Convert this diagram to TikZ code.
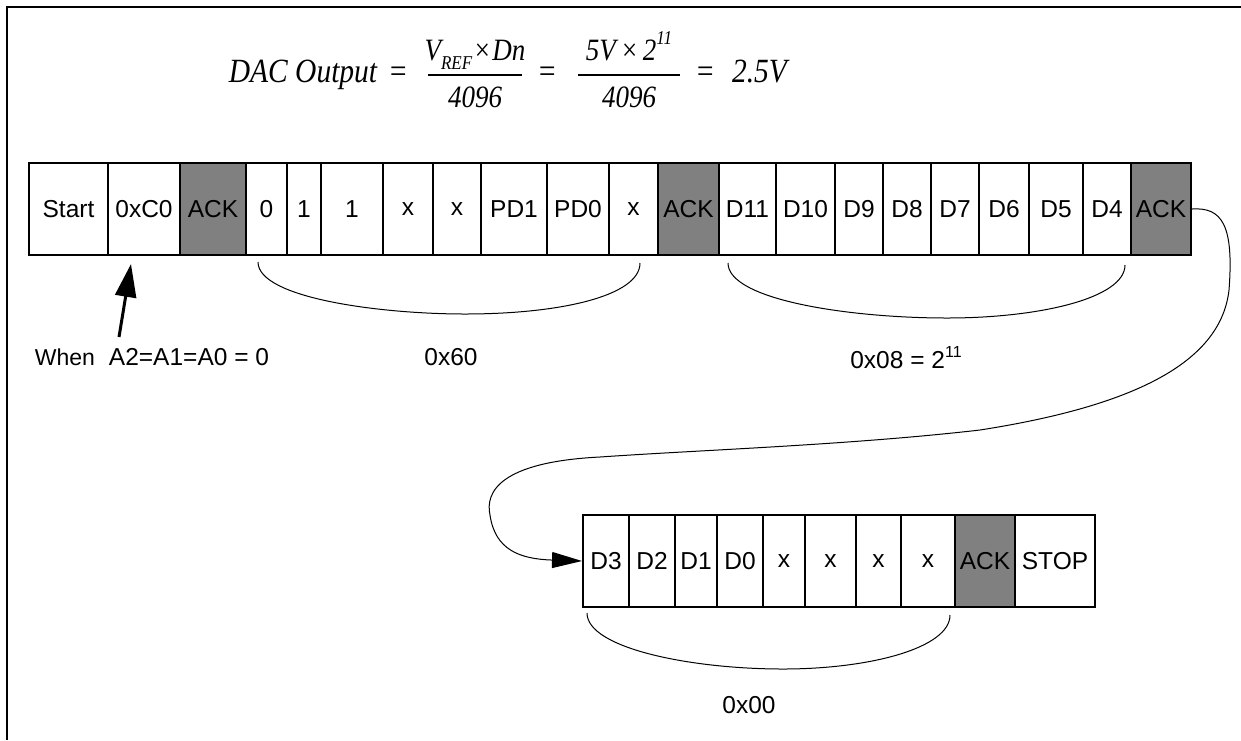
\documentclass[tikz,border=0pt]{standalone}
\usepackage{fontspec}
\usepackage{graphicx}
\setmainfont{Liberation Sans}
\newfontfamily\tnrfont{Liberation Serif}
\usetikzlibrary{arrows.meta,calc}
\definecolor{ackgrey}{HTML}{808080}
\newcommand{\cellfont}{\fontsize{24.5}{28}\selectfont}
\newcommand{\fmlfont}{\tnrfont\itshape\fontsize{29.5}{34}\selectfont}
\newcommand{\fracfont}{\tnrfont\itshape\fontsize{27}{32}\selectfont}
\newcommand{\smallfml}[1]{{\fontsize{17}{20}\selectfont #1}}
\newcommand{\tall}[1]{\scalebox{1}[1.15]{#1}}
\begin{document}
\begin{tikzpicture}[x=1pt,y=-1pt,
  cellbox/.style={draw, line width=2pt, minimum height=92pt, inner sep=0pt, font=\cellfont},
  ackbox/.style={cellbox, fill=ackgrey},
  lbl/.style={font=\cellfont, inner sep=0pt},
  fmla/.style={font=\fmlfont, inner sep=0pt, anchor=base},
  fracpart/.style={font=\fracfont, inner sep=0pt, anchor=base},
  fbar/.style={line width=1.5pt},
  brace/.style={line width=1pt},
  loopline/.style={line width=1pt, -{Triangle[length=30pt,width=16pt]}},
  pointer/.style={line width=3pt, -{Triangle[length=33pt,width=21pt]}},
  frame/.style={line width=2pt}
]
\useasboundingbox (0,0) rectangle (1241,740);
% frame
\draw[frame] (7,740) -- (7,7) -- (1241,7);

% formula
\node[fmla] (dac) at (303,82) {\tall{DAC Output}};
\node[fmla] (eq1) at (398,82) {\tall{=}};
\node[fracpart] (num1) at (475,60) {\tall{V\raisebox{-0.3em}{\smallfml{REF}}\kern1pt×\kern1pt Dn}};
\node[fracpart] (den1) at (475,107) {\tall{4096}};
\draw[fbar] (428,75) -- (522,75);
\node[fmla] (eq2) at (547,82) {\tall{=}};
\node[fracpart] (num2) at (629,60) {\tall{5V\,×\,2\raisebox{0.5em}{\smallfml{11}}}};
\node[fracpart] (den2) at (629,107) {\tall{4096}};
\draw[fbar] (578,75) -- (680,75);
\node[fmla] (eq3) at (705,82) {\tall{=}};
\node[fmla] (res) at (759.5,82) {\tall{2.5V}};

% top row
\node[cellbox, minimum width=79pt] (start) at (68.5,209) {Start};
\node[cellbox, minimum width=72pt] (addr) at (144,209) {0xC0};
\node[ackbox, minimum width=66pt] (ackA) at (213,209) {ACK};
\node[cellbox, minimum width=41pt] (cb0) at (266.5,209) {0};
\node[cellbox, minimum width=34pt] (cb1) at (304,209) {1};
\node[cellbox, minimum width=62pt] (cb2) at (352,209) {1};
\node[cellbox, minimum width=50pt] (cb3) at (408,209) {x};
\node[cellbox, minimum width=48pt] (cb4) at (457,209) {x};
\node[cellbox, minimum width=66pt] (pdone) at (514,209) {PD1};
\node[cellbox, minimum width=62pt] (pdzero) at (578,209) {PD0};
\node[cellbox, minimum width=49pt] (cb7) at (633.5,209) {x};
\node[ackbox, minimum width=61pt] (ackB) at (688.5,209) {ACK};
\node[cellbox, minimum width=57pt] (dB11) at (747.5,209) {D11};
\node[cellbox, minimum width=59pt] (dB10) at (805.5,209) {D10};
\node[cellbox, minimum width=48pt] (dB9) at (859,209) {D9};
\node[cellbox, minimum width=48pt] (dB8) at (907,209) {D8};
\node[cellbox, minimum width=48pt] (dB7) at (955,209) {D7};
\node[cellbox, minimum width=50pt] (dB6) at (1004,209) {D6};
\node[cellbox, minimum width=54pt] (dB5) at (1056,209) {D5};
\node[cellbox, minimum width=48pt] (dB4) at (1107,209) {D4};
\node[ackbox, minimum width=60pt] (ackC) at (1161,209) {ACK};

% bottom row
\node[cellbox, minimum width=46pt] (dB3) at (606,561) {D3};
\node[cellbox, minimum width=46pt] (dB2) at (652,561) {D2};
\node[cellbox, minimum width=42pt] (dB1) at (696,561) {D1};
\node[cellbox, minimum width=46pt] (dB0) at (740,561) {D0};
\node[cellbox, minimum width=42pt] (xa) at (784,561) {x};
\node[cellbox, minimum width=51pt] (xb) at (830.5,561) {x};
\node[cellbox, minimum width=45pt] (xc) at (878.5,561) {x};
\node[cellbox, minimum width=54pt] (xd) at (928,561) {x};
\node[ackbox, minimum width=60pt] (ackD) at (985,561) {ACK};
\node[cellbox, minimum width=80pt] (stop) at (1055,561) {STOP};

% braces
\draw[brace] (258,262) .. controls (258,298) and (380,314) .. (465,314)
             .. controls (560,314) and (640,296) .. (640,263);
\draw[brace] (728,263) .. controls (728,300) and (850,318) .. (947,318)
             .. controls (1040,318) and (1125,298) .. (1125,265);
\draw[brace] (587,613) .. controls (587,648) and (690,669) .. (783,669)
             .. controls (870,669) and (950,648) .. (950,615);

% labels
\node[lbl, font=\fontsize{23}{27}\selectfont] (when) at (65,357) {When};
\node[lbl] (addrval) at (189,357) {A2=A1=A0 = 0};
\node[lbl] (cmdval) at (451,357) {0x60};
\node[lbl] (msbval) at (906,358) {0x08 = 2\raisebox{0.45em}{\fontsize{16}{18}\selectfont 11}};
\node[lbl] (lsbval) at (749,705) {0x00};

% pointer arrow
\coordinate (ptrtail) at (119,337);
\coordinate (ptrtip) at (131,264);
\draw[pointer] (ptrtail) -- (ptrtip);

% loop connector from last ACK to D3
\draw[loopline] (ackC.east) .. controls (1222,207) and (1234,225) .. (1229,290)
   .. controls (1221,360) and (1140,405) .. (980,430)
   .. controls (850,445) and (700,450) .. (600,457)
   .. controls (500,462) and (485,492) .. (490,515)
   .. controls (495,550) and (520,559) .. (dB3.west);
\end{tikzpicture}
\end{document}
